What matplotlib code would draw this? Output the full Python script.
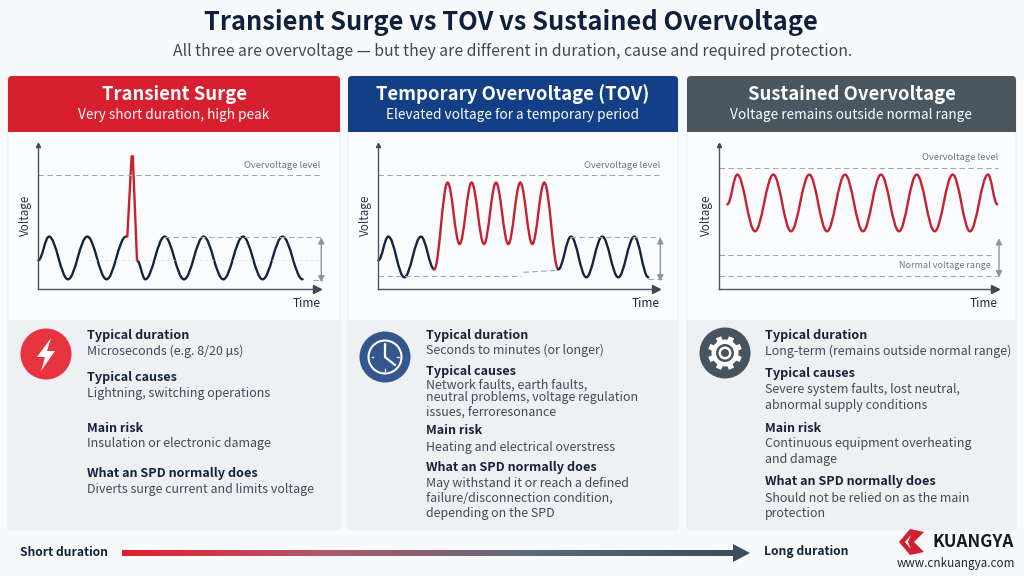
import numpy as np
import matplotlib
matplotlib.use('Agg')
import matplotlib.pyplot as plt
from matplotlib.colors import LinearSegmentedColormap
from matplotlib.patches import Circle, FancyBboxPatch, PathPatch, Polygon, Rectangle
from matplotlib.path import Path

plt.rcParams['font.family'] = ['Noto Sans CJK SC', 'DejaVu Sans']

W, H = 1024, 576
NAVY = '#14233f'
RED = '#c8202f'

title = 'Transient Surge vs TOV vs Sustained Overvoltage'
subtitle = 'All three are overvoltage \u2014 but they are different in duration, cause and required protection.'

headers = ['Transient Surge', 'Temporary Overvoltage (TOV)', 'Sustained Overvoltage']
subheaders = ['Very short duration, high peak', 'Elevated voltage for a temporary period',
              'Voltage remains outside normal range']
header_colors = ['#d71f2f', '#123f86', '#4a5761']

# waveforms (time, voltage)
surge_t1 = [0, 10.7, 29.7, 49, 68.3, 87.7]
surge_v1 = [29, 52.7, 10, 52.7, 10, 52.7]
surge_spike_t = [87.7, 89, 93.3, 94.5, 98.7]
surge_spike_v = [52.7, 52.7, 133, 133, 29]
surge_t2 = [98.7, 107, 126.3, 145.7, 165.3, 185, 204.7, 224.3, 244.3, 264.3]
surge_v2 = [29, 10, 52.7, 10, 52.7, 10, 52.7, 10, 52.7, 10]

tov_t1 = [0, 10, 26, 42.7, 56]
tov_v1 = [29, 52.7, 12, 52.7, 20]
tov_red_t = [56, 69.3, 81.3, 93.3, 105.7, 117.7, 130, 142, 154, 166, 180]
tov_red_v = [20, 106.7, 45.3, 106.7, 45.3, 106.7, 45.3, 106.7, 45.3, 106.7, 20]
tov_t2 = [180, 192.7, 208, 224, 240, 256, 270]
tov_v2 = [20, 52.7, 12, 52.7, 12, 52.7, 12]

sust_t = [8.3, 18.3, 36, 54.3, 72, 90.3, 108, 126, 144, 162, 180, 197.7, 215.7, 233.7, 251, 269, 278.3]
sust_v = [85, 114.7, 58, 114.7, 58, 114.7, 58, 114.7, 58, 114.7, 58, 114.7, 58, 114.7, 58, 114.7, 85]

# text rows of the lower cards: (text, bold, y)
card1 = [('Typical duration', True, 335), ('Microseconds (e.g. 8/20 \u00b5s)', False, 351),
         ('Typical causes', True, 377), ('Lightning, switching operations', False, 393),
         ('Main risk', True, 429), ('Insulation or electronic damage', False, 444),
         ('What an SPD normally does', True, 473), ('Diverts surge current and limits voltage', False, 489)]
card2 = [('Typical duration', True, 335), ('Seconds to minutes (or longer)', False, 350),
         ('Typical causes', True, 372), ('Network faults, earth faults,', False, 385),
         ('neutral problems, voltage regulation', False, 398), ('issues, ferroresonance', False, 412),
         ('Main risk', True, 431), ('Heating and electrical overstress', False, 447),
         ('What an SPD normally does', True, 467), ('May withstand it or reach a defined', False, 483),
         ('failure/disconnection condition,', False, 498), ('depending on the SPD', False, 514)]
card3 = [('Typical duration', True, 335), ('Long-term (remains outside normal range)', False, 351),
         ('Typical causes', True, 373), ('Severe system faults, lost neutral,', False, 389),
         ('abnormal supply conditions', False, 405), ('Main risk', True, 429),
         ('Continuous equipment overheating', False, 444), ('and damage', False, 459),
         ('What an SPD normally does', True, 482), ('Should not be relied on as the main', False, 498),
         ('protection', False, 514)]
cards = [card1, card2, card3]

panel_left = [8, 348, 687]
panel_right = [340, 678, 1016]
text_left = [87, 426, 765]


def wave(ax, t, v, color):
    # smooth curve through the turning points with flat tangents
    verts = [(t[0], v[0])]
    codes = [Path.MOVETO]
    for i in range(len(t) - 1):
        dt = (t[i + 1] - t[i]) * 0.37
        verts += [(t[i] + dt, v[i]), (t[i + 1] - dt, v[i + 1]), (t[i + 1], v[i + 1])]
        codes += [Path.CURVE4] * 3
    ax.add_patch(PathPatch(Path(verts, codes), fc='none', ec=color, lw=1.7, capstyle='round', clip_on=False))


def chart(x0, y0, w, h):
    ax = fig.add_axes([x0 / W, 1 - (y0 + h) / H, w / W, h / H])
    ax.set_xlim(0, w)
    ax.set_ylim(0, h)
    ax.patch.set_alpha(0)
    ax.set_xticks([])
    ax.set_yticks([])
    ax.spines[['top', 'right']].set_visible(False)
    for s in ['left', 'bottom']:
        ax.spines[s].set_color('#4a535c')
        ax.spines[s].set_linewidth(1.0)
    ax.plot(1, 0, '>', color='#3c4650', ms=5.5, transform=ax.transAxes, clip_on=False)
    ax.plot(0, 1, '^', color='#3c4650', ms=3, transform=ax.transAxes, clip_on=False)
    return ax


def dash(ax, x, y, lw=0.8, color='#a3a8ad'):
    ax.plot(x, y, ls=(0, (5, 3)), color=color, lw=lw, clip_on=False)


def double_arrow(ax, x, y0, y1):
    ax.annotate('', xy=(x, y0), xytext=(x, y1), annotation_clip=False,
                arrowprops=dict(arrowstyle='<|-|>', color='#8d9398', lw=1, mutation_scale=9, shrinkA=0, shrinkB=0))


def chart_labels(ax, right):
    ax.text(right, -14, 'Time', ha='right', va='center', fontsize=8.6, color='#1d2a3a')
    ax.text(-13, 74, 'Voltage', rotation=90, ha='center', va='center', fontsize=8.4, color='#2a3644')


fig = plt.figure(figsize=(W / 100, H / 100), dpi=100, facecolor='#f8f9fb')
bg = fig.add_axes([0, 0, 1, 1])
bg.set_xlim(0, W)
bg.set_ylim(H, 0)
bg.axis('off')

bg.text(511, 22, title, ha='center', va='center', fontsize=18.3, fontweight='bold', color='#10203c')
bg.text(513, 52, subtitle, ha='center', va='center', fontsize=11.4, color='#3e4854')

for i in range(3):
    x0, x1 = panel_left[i], panel_right[i]
    bg.add_patch(FancyBboxPatch((x0, 76), x1 - x0, 454, boxstyle='round,pad=0,rounding_size=4',
                                fc='#fbfcfd', ec='#e6e9ee', lw=0.6))
    bg.add_patch(FancyBboxPatch((x0, 76), x1 - x0, 56, boxstyle='round,pad=0,rounding_size=4',
                                fc=header_colors[i], ec='none'))
    bg.add_patch(Rectangle((x0, 110), x1 - x0, 22, fc=header_colors[i], ec='none'))
    bg.add_patch(FancyBboxPatch((x0, 320), x1 - x0, 210, boxstyle='round,pad=0,rounding_size=4',
                                fc='#eef0f4', ec='none'))
    cx = (x0 + x1) / 2
    bg.text(cx, 94, headers[i], ha='center', va='center', color='white', fontsize=13.3, fontweight='bold')
    bg.text(cx, 115, subheaders[i], ha='center', va='center', color='white', fontsize=9.8)
    for txt, bold, y in cards[i]:
        bg.text(text_left[i], y, txt, ha='left', va='center', fontsize=9.1 if bold else 8.95,
                fontweight='bold' if bold else 'normal', color='#16233a' if bold else '#414b57')

# icons
bg.add_patch(Circle((46, 354), 25.5, fc='#e8343f', ec='none'))
bg.add_patch(Polygon([(51, 338), (37, 357), (45, 357), (41, 371), (55, 351), (47, 351)], fc='white', ec='none'))

bg.add_patch(Circle((385, 357), 25.5, fc='#34568f', ec='none'))
bg.add_patch(Circle((385, 357), 16.5, fc='none', ec='white', lw=1.5))
bg.plot([385, 385, 395], [344, 357, 365], color='white', lw=1.6, solid_capstyle='round')
for dx, dy in [(0, -13.5), (13.5, 0), (0, 13.5), (-13.5, 0)]:
    bg.plot([385 + dx, 385 + dx * 0.9], [357 + dy, 357 + dy * 0.9], color='#dfe6f0', lw=1)

bg.add_patch(Circle((725, 353), 25.5, fc='#47535f', ec='none'))
for a in np.deg2rad([22.5, 67.5, 112.5, 157.5, 202.5, 247.5, 292.5, 337.5]):
    bg.plot([725 + 10 * np.cos(a), 725 + 17 * np.cos(a)], [353 + 10 * np.sin(a), 353 + 17 * np.sin(a)],
            color='white', lw=4, solid_capstyle='butt')
bg.add_patch(Circle((725, 353), 13.5, fc='white', ec='none'))
bg.add_patch(Circle((725, 353), 9, fc='#47535f', ec='none'))
bg.add_patch(Circle((725, 353), 6.5, fc='white', ec='none'))
bg.add_patch(Circle((725, 353), 4, fc='#47535f', ec='none'))

# panel 1
ax = chart(38.3, 145, 279, 144.3)
wave(ax, surge_t1, surge_v1, NAVY)
ax.plot(surge_spike_t, surge_spike_v, color=RED, lw=1.7, solid_joinstyle='round')
wave(ax, surge_t2, surge_v2, NAVY)
dash(ax, [0, 283], [114.3, 114.3])
dash(ax, [126, 285], [52.7, 52.7])
dash(ax, [50, 280], [29, 29], lw=0.5, color='#dfe2e5')
dash(ax, [275, 285], [9, 9])
double_arrow(ax, 283, 52, 7)
ax.text(282, 124, 'Overvoltage level', ha='right', va='center', fontsize=6.8, color='#70777e')
chart_labels(ax, 282)

# panel 2
ax = chart(378.3, 145, 278, 144.3)
wave(ax, tov_t1, tov_v1, NAVY)
wave(ax, tov_red_t, tov_red_v, RED)
wave(ax, tov_t2, tov_v2, NAVY)
dash(ax, [0, 282], [114.3, 114.3])
dash(ax, [192, 282], [52.7, 52.7])
dash(ax, [0, 143], [13, 13])
dash(ax, [145, 180], [17, 19])
dash(ax, [270, 284], [10, 10])
double_arrow(ax, 282, 52, 8)
ax.text(282, 124, 'Overvoltage level', ha='right', va='center', fontsize=6.8, color='#70777e')
chart_labels(ax, 281)

# panel 3
ax = chart(719, 145, 276, 144.3)
wave(ax, sust_t, sust_v, RED)
dash(ax, [0, 279], [121.7, 121.7])
dash(ax, [0, 272], [34, 34])
dash(ax, [0, 280], [13.7, 13.7])
double_arrow(ax, 280, 51, 12)
ax.text(279, 132, 'Overvoltage level', ha='right', va='center', fontsize=6.8, color='#70777e')
ax.text(272, 24, 'Normal voltage range', ha='right', va='center', fontsize=6.5, color='#70777e')
chart_labels(ax, 279)

# duration bar along the bottom
cmap = LinearSegmentedColormap.from_list('dur', ['#e3202f', '#b05a6c', '#5d6b78', '#3f4d5a'])
bg.imshow(np.linspace(0, 1, 256).reshape(1, -1), extent=(122, 735, 556, 550), cmap=cmap, aspect='auto')
bg.set_xlim(0, W)
bg.set_ylim(H, 0)
bg.add_patch(Polygon([(733, 544), (750, 553), (733, 562)], fc='#3f4d5a', ec='none'))
bg.text(20, 552, 'Short duration', ha='left', va='center', fontsize=8.7, fontweight='bold', color='#16233a')
bg.text(764, 552, 'Long duration', ha='left', va='center', fontsize=8.7, fontweight='bold', color='#16233a')

# logo
bg.add_patch(Polygon([(910, 529), (924, 532), (914, 542), (924, 552), (910, 555), (899, 542)], fc='#d3202e', ec='none'))
bg.add_patch(Polygon([(911, 535), (905, 542), (911, 549), (908, 542)], fc='#f8f9fb', ec='none'))
bg.text(932, 542, 'KUANGYA', ha='left', va='center', fontsize=12.3, fontweight='bold', color='#111a28')
bg.text(956, 564, 'www.cnkuangya.com', ha='center', va='center', fontsize=8.4, color='#1c2736')

fig.savefig('out.png', dpi=100)
